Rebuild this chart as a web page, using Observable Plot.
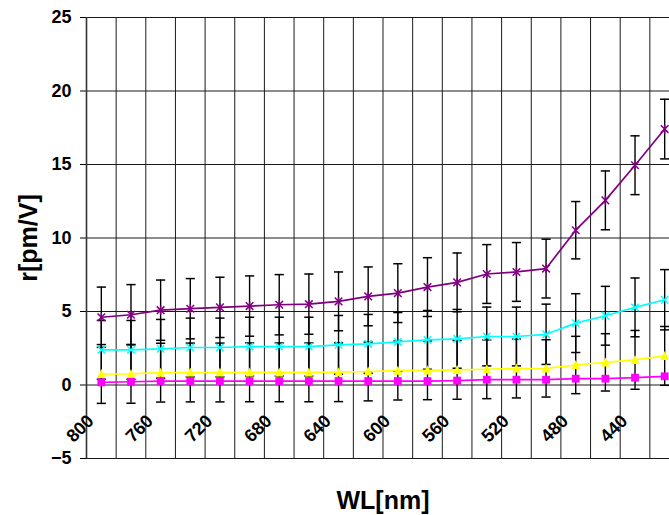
<!DOCTYPE html>
<html><head><meta charset="utf-8">
<script src="https://cdn.jsdelivr.net/npm/d3@7"></script>
<script src="https://cdn.jsdelivr.net/npm/@observablehq/plot@0.6"></script>
<style>
html,body{margin:0;padding:0;background:#fff;overflow:hidden;}
#chart svg{overflow:hidden;display:block;}
</style>
</head><body><div id="chart"></div>
<script>
// Categories (wavelength, nm), plotted from 800 down to 420
const wavelengths = [800,780,760,740,720,700,680,660,640,620,600,580,560,540,520,500,480,460,440,420];
const xTickLabels = [800,760,720,680,640,600,560,520,480,440];
const yTicks = [-5,0,5,10,15,20,25];

// Series values r [pm/V]
const purpleValues = [4.61,4.78,5.09,5.19,5.28,5.37,5.46,5.50,5.69,6.03,6.25,6.66,6.98,7.55,7.69,7.92,10.53,12.56,14.95,17.41];
const purpleErrors = [2.05,2.05,2.05,2.05,2.05,2.05,2.05,2.05,2.0,2.0,2.0,2.0,2.0,2.0,2.0,2.0,1.95,2.0,2.0,2.03];
const cyanValues   = [2.39,2.39,2.46,2.55,2.55,2.61,2.61,2.61,2.73,2.80,2.93,3.07,3.14,3.30,3.30,3.45,4.21,4.71,5.28,5.80];
const cyanErrors   = [2.0,2.0,2.0,2.0,2.0,2.0,2.0,2.0,2.0,2.0,2.0,2.0,2.0,2.0,2.0,2.05,2.0,2.0,2.0,2.05];
const yellowValues = [0.75,0.76,0.84,0.85,0.85,0.86,0.86,0.86,0.87,0.92,0.98,1.00,1.03,1.07,1.12,1.13,1.36,1.54,1.71,1.98];
const yellowErrors = [2.0,2.0,2.0,2.0,2.0,2.0,2.0,2.0,2.0,2.0,2.0,2.0,2.0,2.0,2.0,1.95,1.95,1.95,2.0,2.0];
const pinkValues   = [0.18,0.22,0.27,0.27,0.27,0.27,0.27,0.27,0.27,0.27,0.27,0.27,0.30,0.36,0.36,0.36,0.43,0.43,0.50,0.59];

const series = [
  {name: "purple", color: "#800080", values: purpleValues, errors: purpleErrors, marker: "star"},
  {name: "cyan",   color: "#00FFFF", values: cyanValues,   errors: cyanErrors,   marker: "times"},
  {name: "yellow", color: "#FFFF00", values: yellowValues, errors: yellowErrors, marker: "triangle"},
  {name: "pink",   color: "#FF00FF", values: pinkValues,   errors: null,         marker: "square"}
];

const rowsOf = s => wavelengths.map((w, i) => ({wl: w, v: s.values[i], e: s.errors ? s.errors[i] : 0}));

// category boundaries (Excel "between tick marks")
const step = wavelengths[0] - wavelengths[1];
const boundaries = wavelengths.map(w => w + step / 2).concat([wavelengths[wavelengths.length - 1] - step / 2]);

// marker symbols
const symStar = {draw(c, size) { const r = Math.sqrt(size / Math.PI);
  c.moveTo(-r, -r); c.lineTo(r, r); c.moveTo(-r, r); c.lineTo(r, -r); c.moveTo(0, -r * 1.15); c.lineTo(0, r * 1.15); }};
const symTimes = {draw(c, size) { const r = Math.sqrt(size / Math.PI);
  c.moveTo(-r, -r); c.lineTo(r, r); c.moveTo(-r, r); c.lineTo(r, -r); }};
const symTri = {draw(c, size) { const r = Math.sqrt(size / Math.PI);
  c.moveTo(0, -r * 1.15); c.lineTo(r, r * 0.95); c.lineTo(-r, r * 0.95); c.closePath(); }};
const symSquare = {draw(c, size) { const r = Math.sqrt(size / Math.PI);
  c.rect(-r, -r, 2 * r, 2 * r); }};
const symCap = {draw(c, size) { const r = Math.sqrt(size / Math.PI);
  c.moveTo(-r, 0); c.lineTo(r, 0); }};

const errMarks = [];
const seriesMarks = [];
for (const s of series) {
  const rows = rowsOf(s);
  if (s.errors) {
    errMarks.push(Plot.ruleX(rows, {x: "wl", y1: d => d.v - d.e, y2: d => d.v + d.e, stroke: "#000", strokeWidth: 1.4}));
    errMarks.push(Plot.dot(rows, {x: "wl", y: d => d.v + d.e, symbol: symCap, r: 4.6, stroke: "#000", strokeWidth: 1.5, fill: "none"}));
    errMarks.push(Plot.dot(rows, {x: "wl", y: d => d.v - d.e, symbol: symCap, r: 4.6, stroke: "#000", strokeWidth: 1.5, fill: "none"}));
  }
  seriesMarks.push(Plot.line(rows, {x: "wl", y: "v", stroke: s.color, strokeWidth: 1.7}));
  if (s.marker === "star") seriesMarks.push(Plot.dot(rows, {x: "wl", y: "v", symbol: symStar, r: 3.8, stroke: s.color, strokeWidth: 1.5, fill: "none"}));
  if (s.marker === "times") seriesMarks.push(Plot.dot(rows, {x: "wl", y: "v", symbol: symTimes, r: 3.7, stroke: s.color, strokeWidth: 1.5, fill: "none"}));
  if (s.marker === "triangle") seriesMarks.push(Plot.dot(rows, {x: "wl", y: "v", symbol: symTri, r: 4.3, fill: s.color, stroke: "none"}));
  if (s.marker === "square") seriesMarks.push(Plot.dot(rows, {x: "wl", y: "v", symbol: symSquare, r: 3.9, fill: s.color, stroke: "none"}));
}

const chart = Plot.plot({
  width: 669, height: 515,
  marginLeft: 86, marginTop: 17, marginBottom: 57, marginRight: 0,
  style: {fontFamily: "Arial, 'Liberation Sans', sans-serif", fontSize: "18px", fontWeight: "bold", background: "#fff", color: "#000"},
  x: {domain: [boundaries[0], boundaries[boundaries.length - 1]], range: [86, 679], axis: null},
  y: {domain: [yTicks[0], yTicks[yTicks.length - 1]], ticks: yTicks, tickSize: 6, tickPadding: 9, label: null},
  marks: [
    Plot.ruleY(yTicks, {stroke: "#1a1a1a", strokeWidth: 1}),
    Plot.ruleX(boundaries, {stroke: "#1a1a1a", strokeWidth: 1}),
    Plot.ruleX([boundaries[0]], {stroke: "#333", strokeWidth: 1.6}),
    ...errMarks,
    ...seriesMarks,
    Plot.text(xTickLabels, {x: d => d, y: 0, text: d => String(d), rotate: -45, textAnchor: "end", lineAnchor: "middle", dx: -10.5, dy: 33, fontSize: 18, fontWeight: "bold", fill: "#000"}),
    Plot.text(["r[pm/V]"], {frameAnchor: "left", dx: -57.5, rotate: -90, textAnchor: "middle", lineAnchor: "middle", fontSize: 25, fontWeight: "bold", fill: "#000"}),
    Plot.text(["WL[nm]"], {frameAnchor: "bottom", dx: 5, dy: 42, textAnchor: "middle", lineAnchor: "middle", fontSize: 25, fontWeight: "bold", fill: "#000"})
  ]
});
document.getElementById("chart").appendChild(chart);
</script>
</body></html>
